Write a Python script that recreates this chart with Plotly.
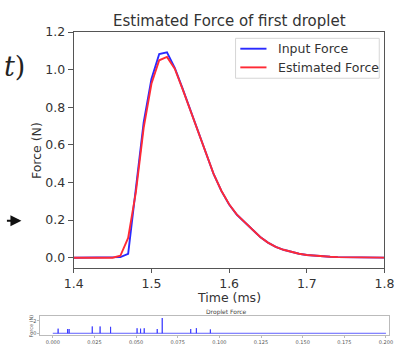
import plotly.graph_objects as go

# ---------------- data ----------------
time_ms = [1.40, 1.41, 1.42, 1.43, 1.44, 1.45, 1.46, 1.47, 1.48, 1.49,
           1.50, 1.51, 1.52, 1.53, 1.54, 1.55, 1.56, 1.57, 1.58, 1.59,
           1.60, 1.61, 1.62, 1.63, 1.64, 1.65, 1.66, 1.67, 1.68, 1.69,
           1.70, 1.71, 1.72, 1.73, 1.74, 1.75, 1.76, 1.77, 1.78, 1.79, 1.80]

input_force = [0, 0, 0, 0, 0, 0, 0.003, 0.02, 0.36, 0.72,
               0.95, 1.083, 1.092, 1.01, 0.90, 0.785, 0.67, 0.555, 0.445, 0.355,
               0.283, 0.228, 0.19, 0.15, 0.11, 0.08, 0.058, 0.042, 0.03, 0.021,
               0.014, 0.01, 0.007, 0.005, 0.003, 0.002, 0.0015, 0.001, 0.001, 0.0005, 0.0005]

estimated_force = [0, 0, 0, 0, 0, 0, 0.01, 0.105, 0.35, 0.69,
                   0.925, 1.05, 1.068, 1.005, 0.898, 0.784, 0.669, 0.555, 0.446, 0.356,
                   0.284, 0.229, 0.19, 0.15, 0.11, 0.08, 0.058, 0.042, 0.03, 0.021,
                   0.014, 0.01, 0.007, 0.005, 0.003, 0.002, 0.0015, 0.001, 0.001, 0.0005, 0.0005]

series_names = ["Input Force", "Estimated Force"]
series_colors = ["#2a2aff", "#ff2a35"]

x_ticks = [1.4, 1.5, 1.6, 1.7, 1.8]
x_tick_labels = ["1.4", "1.5", "1.6", "1.7", "1.8"]
y_ticks = [0.0, 0.2, 0.4, 0.6, 0.8, 1.0, 1.2]
y_tick_labels = ["0.0", "0.2", "0.4", "0.6", "0.8", "1.0", "1.2"]

# small "Droplet Force" overview chart
spike_times = [0.0032, 0.0089, 0.0098, 0.0237, 0.0284, 0.0347, 0.0506, 0.0527,
               0.0549, 0.0627, 0.0657, 0.0828, 0.0862, 0.0946]
spike_heights = [0.74, 0.68, 0.68, 1.09, 1.09, 1.03, 0.80, 0.74,
                 0.80, 0.68, 2.44, 0.68, 0.82, 0.62]
signal_end = 0.2
small_x_ticks = [0.0, 0.025, 0.05, 0.075, 0.1, 0.125, 0.15, 0.175, 0.2]
small_x_tick_labels = ["0.000", "0.025", "0.050", "0.075", "0.100", "0.125", "0.150", "0.175", "0.200"]
small_y_ticks = [0, 2]

W, H = 414, 345
FONT = "DejaVu Sans"
TXT = "#333333"

def px(x):
    return x / W

def py(y):
    return 1 - y / H

fig = go.Figure()

for name, vals, col in zip(series_names, [input_force, estimated_force], series_colors):
    fig.add_trace(go.Scatter(x=time_ms, y=vals, mode="lines", name=name, showlegend=False,
                             line=dict(color=col, width=1.9)))

# small signal trace built from spikes
sx, sy = [0.0], [0.0]
for t, h in zip(spike_times, spike_heights):
    sx += [t, t, t]
    sy += [0.0, h, 0.0]
sx.append(signal_end)
sy.append(0.0)
fig.add_trace(go.Scatter(x=sx, y=sy, mode="lines", showlegend=False,
                         line=dict(color="rgba(40,40,255,0.75)", width=1),
                         xaxis="x2", yaxis="y2"))

fig.update_layout(
    width=W, height=H,
    margin=dict(l=0, r=0, t=0, b=0),
    paper_bgcolor="white", plot_bgcolor="white",
    font=dict(family=FONT, color=TXT, size=12),
    showlegend=False,
    xaxis=dict(domain=[px(67), px(393.5)], range=[1.4, 1.8],
               tickvals=x_ticks, ticktext=x_tick_labels,
               showgrid=False, zeroline=False, showline=True, mirror=True,
               linecolor="#555555", linewidth=1, ticks="outside", ticklen=4,
               tickcolor="#555555", tickfont=dict(size=12.5, color=TXT), anchor="y"),
    yaxis=dict(domain=[py(270), py(25)], range=[-0.054, 1.2],
               tickvals=y_ticks, ticktext=y_tick_labels,
               showgrid=False, zeroline=False, showline=True, mirror=True,
               linecolor="#555555", linewidth=1, ticks="outside", ticklen=5,
               tickcolor="#555555", tickfont=dict(size=12.5, color=TXT), anchor="x"),
    xaxis2=dict(domain=[px(32), px(398)], range=[-0.0074, 0.2017],
                tickvals=small_x_ticks, ticktext=small_x_tick_labels,
                showgrid=False, zeroline=False, showline=True, mirror=True,
                linecolor="#bbbbbb", linewidth=1, ticks="outside", ticklen=2,
                tickcolor="#bbbbbb", tickfont=dict(size=5, color="#555555"), anchor="y2"),
    yaxis2=dict(domain=[py(339.5), py(320)], range=[-0.23, 2.77],
                tickvals=small_y_ticks,
                showgrid=False, zeroline=False, showline=True, mirror=True,
                linecolor="#bbbbbb", linewidth=1, ticks="outside", ticklen=2,
                tickcolor="#bbbbbb", tickfont=dict(size=5, color="#555555"), anchor="x2"),
)

# manual legend (matplotlib style)
shapes = [
    dict(type="rect", xref="paper", yref="paper", x0=px(237), x1=px(388), y0=py(73), y1=py(31.5),
         line=dict(color="#d6d6d6", width=1), fillcolor="rgba(255,255,255,0.85)", layer="above"),
]
legend_rows = [42.3, 61.7]
annotations = []
for name, col, ry in zip(series_names, series_colors, legend_rows):
    shapes.append(dict(type="line", xref="paper", yref="paper", x0=px(242), x1=px(269.5),
                       y0=py(ry), y1=py(ry), line=dict(color=col, width=1.9), layer="above"))
    annotations.append(dict(text=name, x=px(279), y=py(ry), xref="paper", yref="paper",
                            showarrow=False, xanchor="left", yanchor="middle",
                            font=dict(size=12.5, color=TXT)))

annotations += [
    dict(text="Estimated Force of first droplet", x=px(231), y=py(14), xref="paper", yref="paper",
         showarrow=False, xanchor="center", yanchor="middle", font=dict(size=15, color=TXT)),
    dict(text="Time (ms)", x=px(230), y=py(300.5), xref="paper", yref="paper",
         showarrow=False, xanchor="center", yanchor="middle", font=dict(size=12.5, color=TXT)),
    dict(text="Force (N)", x=px(28), y=py(148), xref="paper", yref="paper", textangle=-90,
         showarrow=False, xanchor="center", yanchor="middle", font=dict(size=12.5, color=TXT)),
    dict(text="<i>t</i>)", x=px(18), y=py(61), xref="paper", yref="paper",
         showarrow=False, xanchor="right", yanchor="middle",
         font=dict(size=27, color="#222222", family="DejaVu Serif")),
    dict(text="", x=px(12), y=py(221), ax=-16, ay=0, xref="paper", yref="paper",
         axref="pixel", ayref="pixel", showarrow=True, arrowhead=2, arrowsize=1.1,
         arrowwidth=2, arrowcolor="#111111"),
    dict(text="Droplet Force", x=px(227), y=py(315.5), xref="paper", yref="paper",
         showarrow=False, xanchor="center", yanchor="middle", font=dict(size=6, color="#444444")),
    dict(text="Force (N)", x=px(22), y=py(330), xref="paper", yref="paper", textangle=-90,
         showarrow=False, xanchor="center", yanchor="middle", font=dict(size=5, color="#555555")),
]
fig.update_layout(shapes=shapes, annotations=annotations)

fig.write_html("out.html")
